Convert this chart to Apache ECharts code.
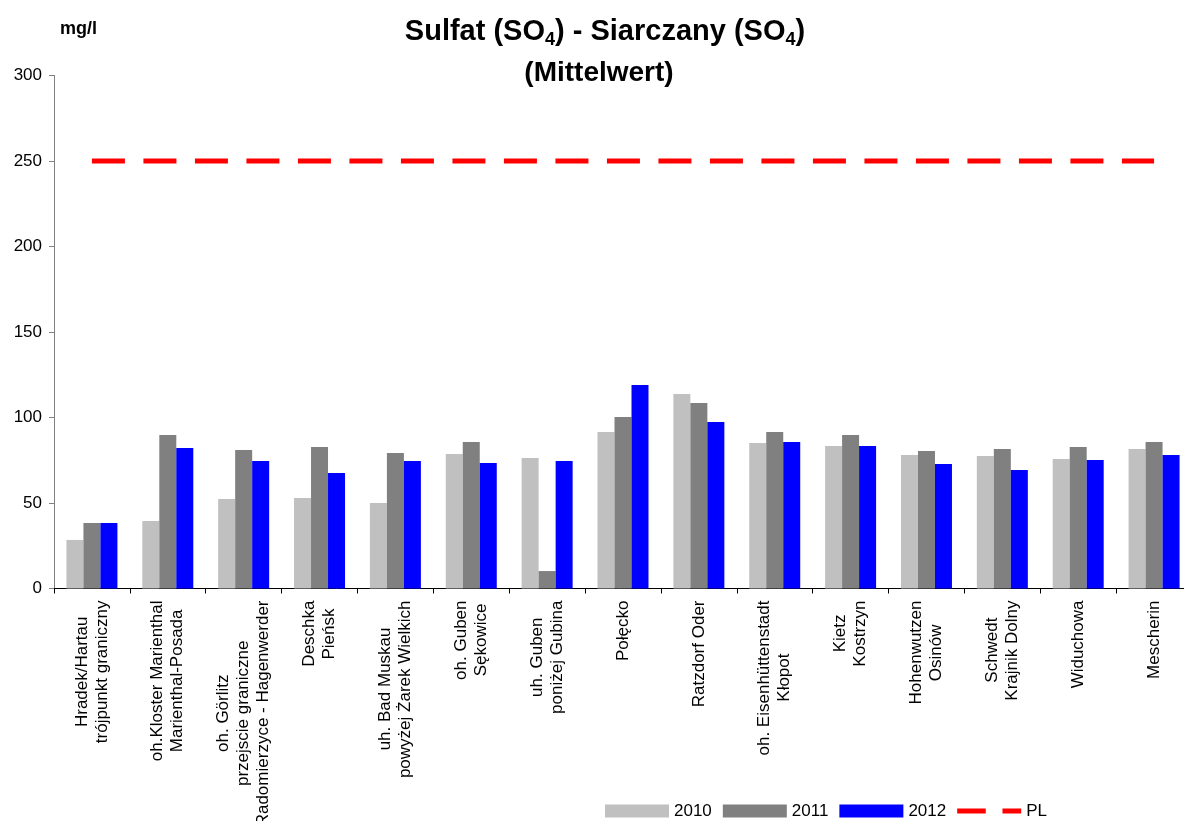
<!DOCTYPE html>
<html><head><meta charset="utf-8">
<script src="https://cdn.jsdelivr.net/npm/echarts@6/dist/echarts.min.js"></script>
<style>html,body{margin:0;padding:0;background:#fff;overflow:hidden}#c{width:1184px;height:821px}</style>
</head><body><div id="c"></div>
<script>
const categories = [
  'Hradek/Hartau\ntrójpunkt graniczny',
  'oh.Kloster Marienthal\nMarienthal-Posada',
  'oh. Görlitz\nprzejscie graniczne\nRadomierzyce - Hagenwerder',
  'Deschka\nPieńsk',
  'uh. Bad Muskau\npowyżej Żarek Wielkich',
  'oh. Guben\nSękowice',
  'uh. Guben\nponiżej Gubina',
  'Połęcko',
  'Ratzdorf Oder',
  'oh. Eisenhüttenstadt\nKłopot',
  'Kietz\nKostrzyn',
  'Hohenwutzen\nOsinów',
  'Schwedt\nKrajnik Dolny',
  'Widuchowa',
  'Mescherin'
];
const v2010 = [28.4, 39.5, 52.3, 52.9, 50.0, 78.7, 76.3, 91.5, 113.7, 85.1, 83.3, 78.1, 77.5, 75.7, 81.6];
const v2011 = [38.3, 89.8, 81.0, 82.7, 79.2, 85.7, 10.2, 100.3, 108.5, 91.5, 89.8, 80.4, 81.6, 82.7, 85.7];
const v2012 = [38.3, 82.2, 74.6, 67.5, 74.6, 73.4, 74.6, 119.0, 97.4, 85.7, 83.3, 72.8, 69.3, 75.1, 78.1];
const vPL = [250, 250, 250, 250, 250, 250, 250, 250, 250, 250, 250, 250, 250, 250, 250];
const seriesNames = ['2010', '2011', '2012', 'PL'];
const yTicks = { min: 0, max: 300, interval: 50 };

const FF = "'Liberation Sans', Arial, sans-serif";
const LABEL_SIZE = 17;

// Centre the lines of each rotated category label on each other (the block itself
// stays end-aligned at the axis): pad each shorter line by half its shortfall.
const mctx = document.createElement('canvas').getContext('2d');
mctx.font = LABEL_SIZE + "px 'Liberation Sans', Arial, sans-serif";
const labelRich = {};
const labelLines = categories.map(function (c, ci) {
  const lines = c.split('\n');
  const widths = lines.map(l => mctx.measureText(l).width);
  const L = Math.max.apply(null, widths);
  return lines.map(function (l, li) {
    const key = 'p' + ci + 'x' + li;
    labelRich[key] = {
      fontSize: LABEL_SIZE, fontFamily: FF, color: '#000', lineHeight: 20,
      padding: [0, Math.round((L - widths[li]) / 2), 0, 0]
    };
    return '{' + key + '|' + l + '}';
  }).join('\n');
});

const chart = echarts.init(document.getElementById('c'), null, { renderer: 'canvas' });

const option = {
  backgroundColor: '#ffffff',
  animation: false,
  title: [
    {
      text: '{a|Sulfat (SO}{s|4}{a|) - Siarczany (SO}{s|4}{a|)}',
      left: 600, textAlign: 'center', top: 10,
      textStyle: {
        rich: {
          a: { fontSize: 29, fontWeight: 'bold', fontFamily: FF, color: '#000', lineHeight: 34 },
          s: { fontSize: 18, fontWeight: 'bold', fontFamily: FF, color: '#000', lineHeight: 22, verticalAlign: 'bottom' }
        }
      }
    },
    {
      text: '(Mittelwert)', left: 594, textAlign: 'center', top: 52,
      textStyle: { fontSize: 28, fontWeight: 'bold', fontFamily: FF, color: '#000', lineHeight: 32 }
    },
    {
      text: 'mg/l', left: 55, top: 14,
      textStyle: { fontSize: 18, fontWeight: 'bold', fontFamily: FF, color: '#000', lineHeight: 20 }
    }
  ],
  legend: {
    left: 605, top: 801, padding: 0,
    itemWidth: 64, itemHeight: 13, itemGap: 11,
    textStyle: { fontSize: 17, fontFamily: FF, color: '#000', lineHeight: 20 },
    data: [
      { name: seriesNames[0], icon: 'rect' },
      { name: seriesNames[1], icon: 'rect' },
      { name: seriesNames[2], icon: 'rect' },
      { name: seriesNames[3], icon: 'path://M0,0H29V5H0Z M46,0H65V5H46Z' }
    ]
  },
  grid: { left: 54, top: 75.5, width: 1138, height: 513, containLabel: false, outerBoundsMode: 'none' },
  xAxis: {
    type: 'category',
    data: categories,
    boundaryGap: true,
    axisLine: { lineStyle: { color: '#000', width: 1 } },
    axisTick: { show: true, length: 5, lineStyle: { color: '#000' } },
    axisLabel: {
      rotate: 90, margin: 12, interval: 0, hideOverlap: false,
      fontSize: LABEL_SIZE, fontFamily: FF, color: '#000', lineHeight: 20,
      formatter: function (v, i) {
        const idx = categories.indexOf(v);
        return labelLines[idx >= 0 ? idx : i] || String(v);
      },
      rich: labelRich
    },
    splitLine: { show: false }
  },
  yAxis: {
    type: 'value',
    min: yTicks.min, max: yTicks.max, interval: yTicks.interval,
    axisLine: { show: true, lineStyle: { color: '#808080', width: 1 } },
    axisTick: { show: true, length: 5, lineStyle: { color: '#808080' } },
    axisLabel: { fontSize: 17, fontFamily: FF, color: '#000', margin: 12 },
    splitLine: { show: false }
  },
  series: [
    { name: seriesNames[0], type: 'bar', data: v2010, barWidth: 17, barGap: '0%', itemStyle: { color: '#C0C0C0' } },
    { name: seriesNames[1], type: 'bar', data: v2011, barWidth: 17, barGap: '0%', itemStyle: { color: '#808080' } },
    { name: seriesNames[2], type: 'bar', data: v2012, barWidth: 17, barGap: '0%', itemStyle: { color: '#0000FF' } },
    {
      name: seriesNames[3], type: 'line', data: vPL, symbol: 'none',
      lineStyle: { color: '#FF0000', width: 5, type: [33, 18.5], cap: 'butt' },
      itemStyle: { color: '#FF0000' }
    }
  ]
};
chart.setOption(option);
</script>
</body></html>
